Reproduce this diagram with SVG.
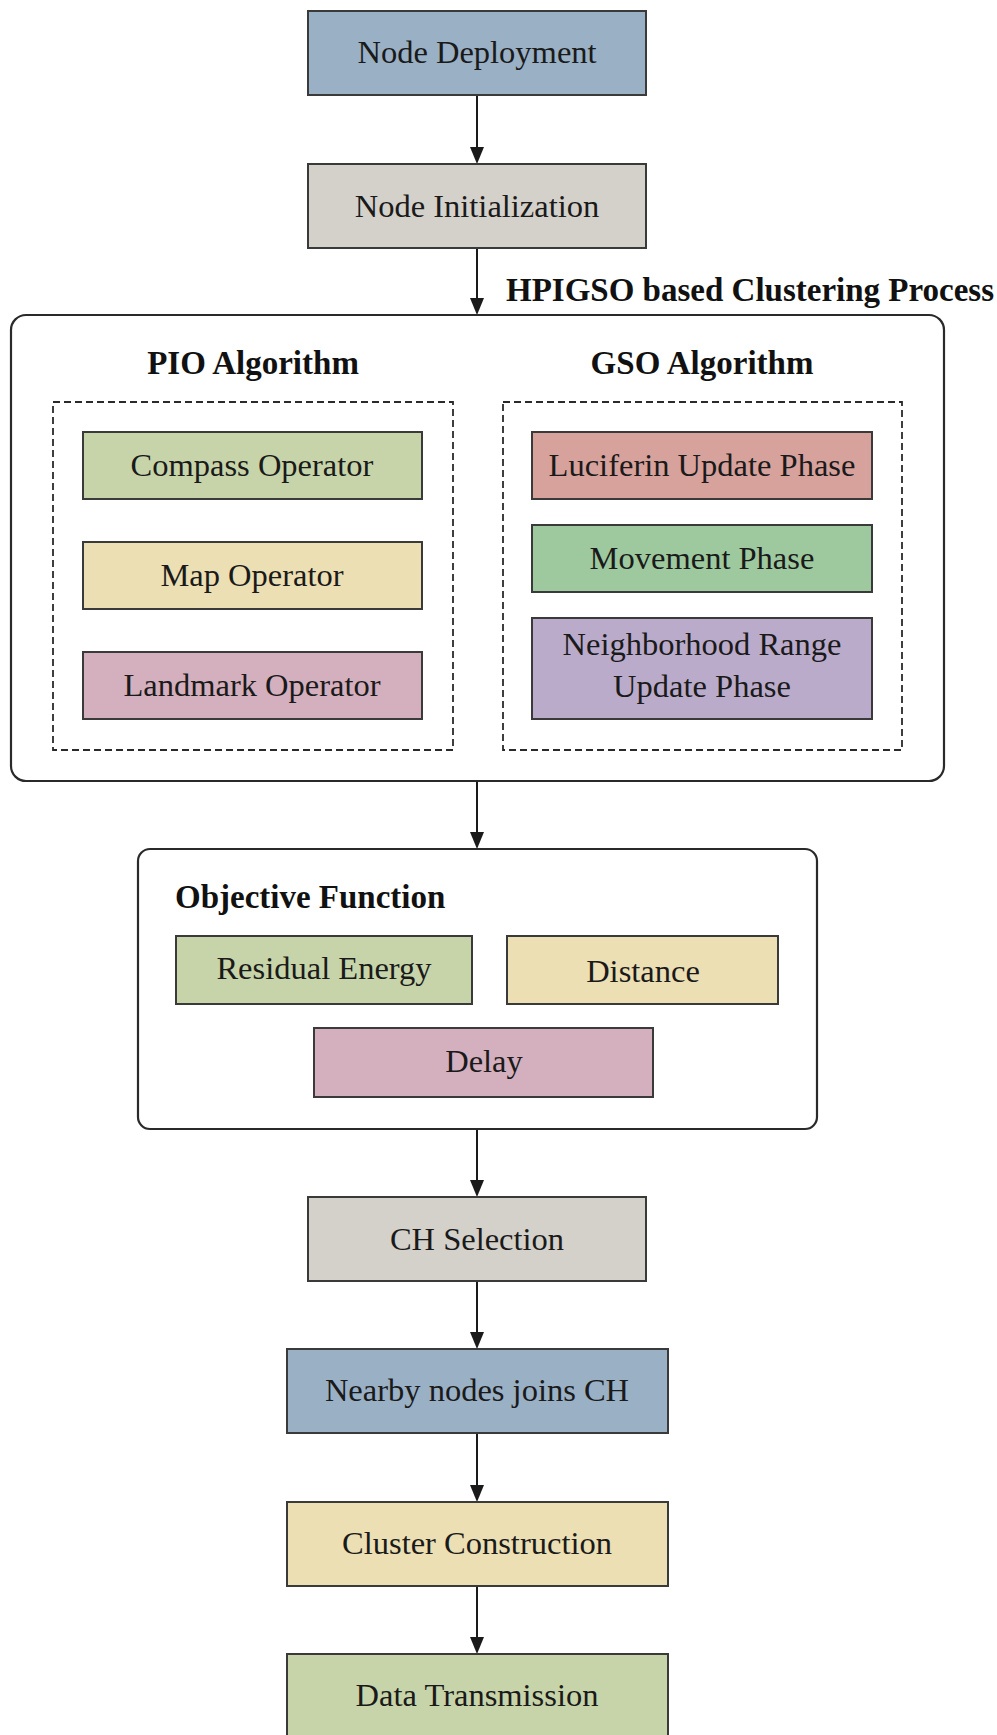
<svg xmlns="http://www.w3.org/2000/svg" width="997" height="1735" viewBox="0 0 997 1735">
<style>
.b{stroke:#3a3a3a;stroke-width:2}
.t{font-family:"Liberation Serif","Times New Roman",serif;font-size:32.5px;fill:#1a1a1a;text-anchor:middle}
.h{font-family:"Liberation Serif","Times New Roman",serif;font-size:33px;font-weight:bold;fill:#111}
.c{fill:none;stroke:#1a1a1a;stroke-width:2}
.dash{fill:none;stroke:#2a2a2a;stroke-width:1.8;stroke-dasharray:7,4}
.blue{fill:#99b0c5}.gray{fill:#d4d1ca}.green{fill:#c7d4a9}.yellow{fill:#ecdfb3}.pink{fill:#d4afbe}
.salmon{fill:#d7a19c}.mgreen{fill:#9ec99e}.lav{fill:#baabcb}
</style>
<rect width="997" height="1735" fill="#fff"/>

<g id="connectors">
<line class="c" x1="477" y1="95" x2="477" y2="148"/><path d="M470,147 L484,147 L477,164 Z" fill="#1a1a1a"/>
<line class="c" x1="477" y1="248" x2="477" y2="299"/><path d="M470,298 L484,298 L477,315 Z" fill="#1a1a1a"/>
<line class="c" x1="477" y1="781" x2="477" y2="833"/><path d="M470,832 L484,832 L477,849 Z" fill="#1a1a1a"/>
<line class="c" x1="477" y1="1129" x2="477" y2="1181"/><path d="M470,1180 L484,1180 L477,1197 Z" fill="#1a1a1a"/>
<line class="c" x1="477" y1="1281" x2="477" y2="1333"/><path d="M470,1332 L484,1332 L477,1349 Z" fill="#1a1a1a"/>
<line class="c" x1="477" y1="1433" x2="477" y2="1486"/><path d="M470,1485 L484,1485 L477,1502 Z" fill="#1a1a1a"/>
<line class="c" x1="477" y1="1586" x2="477" y2="1638"/><path d="M470,1637 L484,1637 L477,1654 Z" fill="#1a1a1a"/>
</g>

<g id="node-deployment"><rect class="b blue" x="308" y="11" width="338" height="84"/><text class="t" x="477" y="63">Node Deployment</text></g>
<g id="node-initialization"><rect class="b gray" x="308" y="164" width="338" height="84"/><text class="t" x="477" y="217">Node Initialization</text></g>

<g id="hpigso-cluster">
<text class="h" x="506" y="301">HPIGSO based Clustering Process</text>
<rect x="11" y="315" width="933" height="466" rx="15" ry="15" fill="none" stroke="#2a2a2a" stroke-width="2.2"/>
</g>

<g id="pio-algorithm">
<text class="h" x="253" y="374" text-anchor="middle">PIO Algorithm</text>
<rect class="dash" x="53" y="402" width="400" height="348"/>
</g>
<g id="gso-algorithm">
<text class="h" x="702" y="374" text-anchor="middle">GSO Algorithm</text>
<rect class="dash" x="503" y="402" width="399" height="348"/>
</g>

<g id="compass-operator"><rect class="b green" x="83" y="432" width="339" height="67"/><text class="t" x="252" y="476">Compass Operator</text></g>
<g id="map-operator"><rect class="b yellow" x="83" y="542" width="339" height="67"/><text class="t" x="252" y="586">Map Operator</text></g>
<g id="landmark-operator"><rect class="b pink" x="83" y="652" width="339" height="67"/><text class="t" x="252" y="696">Landmark Operator</text></g>

<g id="luciferin-update"><rect class="b salmon" x="532" y="432" width="340" height="67"/><text class="t" x="702" y="476">Luciferin Update Phase</text></g>
<g id="movement-phase"><rect class="b mgreen" x="532" y="525" width="340" height="67"/><text class="t" x="702" y="569">Movement Phase</text></g>
<g id="neighborhood-range"><rect class="b lav" x="532" y="618" width="340" height="101"/><text class="t" x="702" y="655">Neighborhood Range</text><text class="t" x="702" y="697">Update Phase</text></g>

<g id="objective-function">
<rect x="138" y="849" width="679" height="280" rx="12" ry="12" fill="none" stroke="#2a2a2a" stroke-width="2.2"/>
<text class="h" x="175" y="908">Objective Function</text>
</g>
<g id="residual-energy"><rect class="b green" x="176" y="936" width="296" height="68"/><text class="t" x="324" y="979">Residual Energy</text></g>
<g id="distance"><rect class="b yellow" x="507" y="936" width="271" height="68"/><text class="t" x="643" y="982">Distance</text></g>
<g id="delay"><rect class="b pink" x="314" y="1028" width="339" height="69"/><text class="t" x="484" y="1072">Delay</text></g>

<g id="ch-selection"><rect class="b gray" x="308" y="1197" width="338" height="84"/><text class="t" x="477" y="1250">CH Selection</text></g>
<g id="nearby-nodes"><rect class="b blue" x="287" y="1349" width="381" height="84"/><text class="t" x="477" y="1401">Nearby nodes joins CH</text></g>
<g id="cluster-construction"><rect class="b yellow" x="287" y="1502" width="381" height="84"/><text class="t" x="477" y="1554">Cluster Construction</text></g>
<g id="data-transmission"><rect class="b green" x="287" y="1654" width="381" height="90"/><text class="t" x="477" y="1706">Data Transmission</text></g>
</svg>
